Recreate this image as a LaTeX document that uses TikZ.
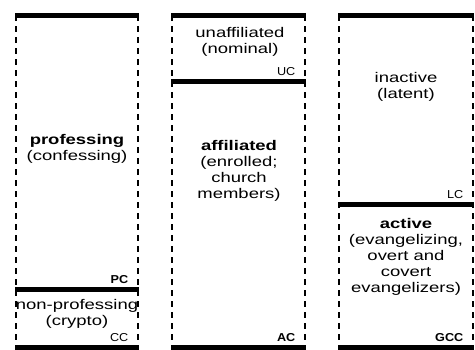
\documentclass[tikz,border=0pt]{standalone}
\usepackage{fontspec}
\setmainfont[FakeStretch=1.32]{Liberation Sans}
\newfontfamily\tagfont[FakeStretch=1.1]{Liberation Sans}
\usetikzlibrary{positioning}

\tikzset{
  rule/.style={line width=4.5pt, shorten <=-1pt, shorten >=-1pt},
  side/.style={line width=1.8pt, dash pattern=on 5.5pt off 5.5pt},
  class/.style={align=center, inner sep=0pt, font=\fontsize{14}{16}\selectfont},
  tag/.style={anchor=base east, inner sep=0pt, font=\tagfont\fontsize{11.5}{13}\selectfont}
}

\begin{document}
\begin{tikzpicture}[x=1pt,y=-1pt]
      \useasboundingbox (0,0) rectangle (475,350);
      \def \Columns {
        1/16/138/289.5,
        2/172/305/81.5,
        3/339/473/204.5}
      \def \Tags {
        e1/\textbf{PC},
        se1/CC,
        e2/UC,
        se2/\textbf{AC},
        e3/LC,
        se3/\textbf{GCC}}

      \foreach \id / \l / \r / \s in \Columns {
        \coordinate (nw\id) at (\l, 15.5);
        \coordinate (ne\id) at (\r, 15.5);
        \coordinate (w\id) at (\l, \s);
        \coordinate (e\id) at (\r, \s);
        \coordinate (sw\id) at (\l, 347.5);
        \coordinate (se\id) at (\r, 347.5);
        \path[draw,side] (nw\id) -- (sw\id);
        \path[draw,side] (ne\id) -- (se\id);
        \path[draw,rule] (nw\id) -- (ne\id);
        \path[draw,rule] (w\id) -- (e\id);
        \path[draw,rule] (sw\id) -- (se\id);
      }

      \node[class] (prof) at (77, 149) {\textbf{professing}\\(confessing)};
      \node[class] (crypto) at (77, 314) {non-professing\\(crypto)};
      \node[class] (nominal) at (240, 41.5) {unaffiliated\\(nominal)};
      \node[class] (enrolled) at (239, 171) {\textbf{affiliated}\\(enrolled;\\church\\members)};
      \node[class] (latent) at (406, 87) {inactive\\(latent)};
      \node[class] (evang) at (406, 256.5) {\textbf{active}\\(evangelizing,\\overt and\\covert\\evangelizers)};

      \foreach \at / \t in \Tags {
        \node[tag] (tag\at) at ([shift={(-9.5,-5.5)}]\at) {\t};
      }
    \end{tikzpicture}
\end{document}
